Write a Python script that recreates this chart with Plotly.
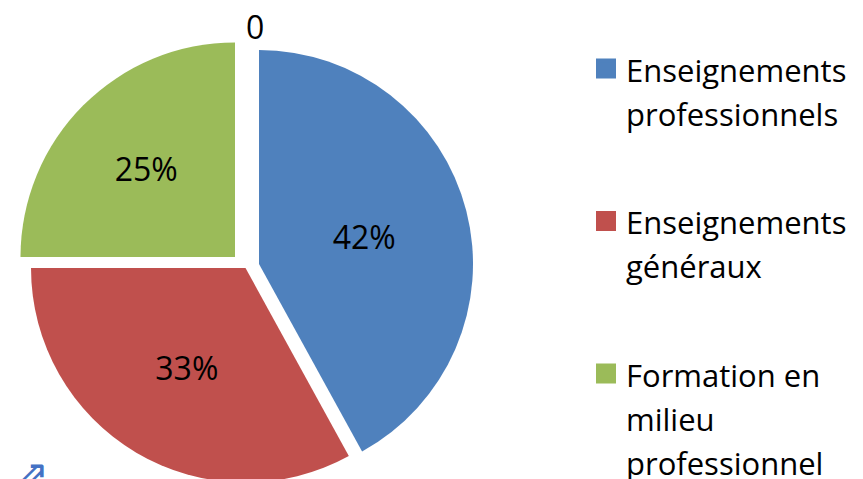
import plotly.graph_objects as go

# ---- data ----
categories = ["Enseignements professionnels", "Enseignements généraux", "Formation en milieu professionnel"]
legend_lines = [["Enseignements", "professionnels"], ["Enseignements", "généraux"], ["Formation en", "milieu", "professionnel"]]
values = [42, 33, 25]
colors = ["#4F81BD", "#C0504D", "#9BBB59"]
zero_label_value = 0

# ---- layout geometry (figure pixels) ----
W, H = 863, 500
apex = [(251, 256), (237.5, 260), (227, 249)]   # centre of each exploded slice
radius = [214, 214.5, 214.5]

total = sum(values)
pct = [f"{v / total * 100:.0f}%" for v in values]

fig = go.Figure()
for i in range(len(values)):
    cx, cy = apex[i]
    r = radius[i]
    fig.add_trace(go.Pie(
        labels=categories, values=values, sort=False, direction="clockwise", rotation=0,
        marker=dict(colors=[colors[j] if j == i else "rgba(0,0,0,0)" for j in range(len(values))],
                    line=dict(width=0)),
        text=[pct[j] if j == i else "" for j in range(len(values))],
        textinfo="text", textposition="inside", insidetextorientation="horizontal",
        textfont=dict(family="Open Sans", size=32, color="black"),
        domain=dict(x=[max(0, (cx - r) / W), min(1, (cx + r) / W)],
                    y=[max(0, (H - cy - r) / H), min(1, (H - cy + r) / H)]),
        showlegend=False, hoverinfo="label+percent", name=categories[i],
    ))

for i in range(len(values)):
    name = "<br>".join(f"<span style='font-size:31px'>{ln}</span>" for ln in legend_lines[i])
    fig.add_trace(go.Scatter(
        x=[None], y=[None], mode="markers", name=name,
        marker=dict(symbol="square", size=16, color=colors[i], line=dict(color=colors[i], width=4)),
        legendgroup=f"g{i}", showlegend=True, hoverinfo="skip",
    ))

fig.add_annotation(x=246.5 / W, y=1 - 18.5 / H, xref="paper", yref="paper", text=str(zero_label_value),
                   showarrow=False, xanchor="center", yanchor="middle",
                   font=dict(family="Open Sans", size=32, color="black"))
fig.add_annotation(x=4 / W, y=1 - 440 / H, xref="paper", yref="paper", text="⇗",
                   showarrow=False, xanchor="left", yanchor="top",
                   font=dict(family="DejaVu Sans", size=42, color="#4472C4"))

fig.update_layout(
    width=W, height=H, margin=dict(l=0, r=0, t=0, b=0),
    paper_bgcolor="white", plot_bgcolor="white",
    xaxis=dict(visible=False), yaxis=dict(visible=False),
    legend=dict(x=578 / W, xanchor="left", y=1 - 32 / H, yanchor="top",
                font=dict(family="Open Sans", size=34, color="black"),
                tracegroupgap=61, traceorder="grouped", valign="top",
                itemwidth=30, bgcolor="rgba(0,0,0,0)"),
)

fig.write_html("out.html")
